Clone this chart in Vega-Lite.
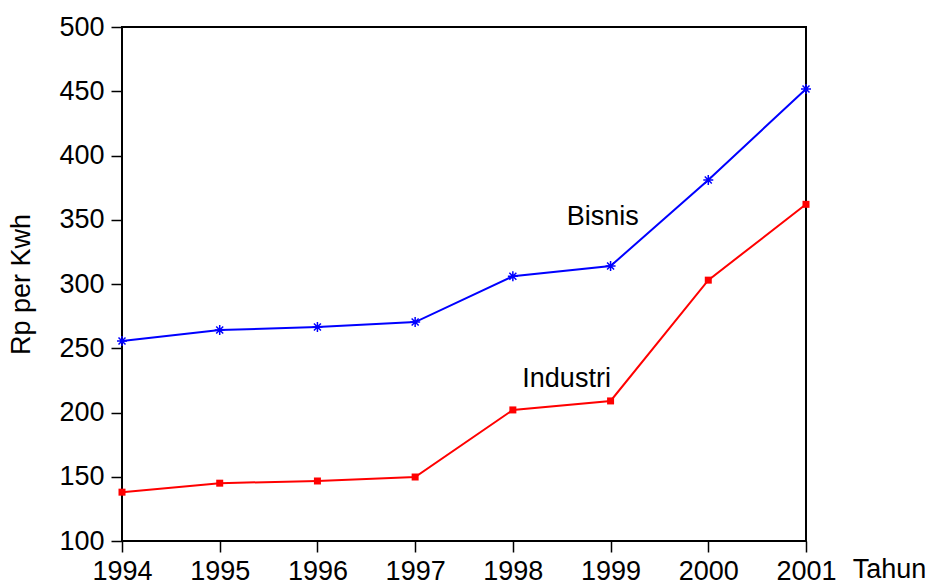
{
  "$schema": "https://vega.github.io/schema/vega-lite/v6.json",
  "autosize": "none",
  "width": 684,
  "height": 514,
  "padding": {"left": 122, "top": 27, "right": 125, "bottom": 45},
  "background": "white",
  "config": {
    "font": "Liberation Sans",
    "view": {"stroke": "black", "strokeWidth": 2},
    "axis": {"grid": false, "domain": false, "tickColor": "black", "tickWidth": 1.5, "tickSize": 11,
      "labelFont": "Liberation Sans", "labelFontSize": 27, "labelColor": "black",
      "titleFont": "Liberation Sans", "titleFontSize": 27, "titleColor": "black", "titleFontWeight": "normal"}
  },
  "datasets": {
    "series": [
      {"tahun": 1994, "nilai": 255.6, "seri": "Bisnis"},
      {"tahun": 1995, "nilai": 264.2, "seri": "Bisnis"},
      {"tahun": 1996, "nilai": 266.5, "seri": "Bisnis"},
      {"tahun": 1997, "nilai": 270.4, "seri": "Bisnis"},
      {"tahun": 1998, "nilai": 306.0, "seri": "Bisnis"},
      {"tahun": 1999, "nilai": 314.0, "seri": "Bisnis"},
      {"tahun": 2000, "nilai": 381.0, "seri": "Bisnis"},
      {"tahun": 2001, "nilai": 451.8, "seri": "Bisnis"},
      {"tahun": 1994, "nilai": 138.0, "seri": "Industri"},
      {"tahun": 1995, "nilai": 145.0, "seri": "Industri"},
      {"tahun": 1996, "nilai": 146.7, "seri": "Industri"},
      {"tahun": 1997, "nilai": 149.8, "seri": "Industri"},
      {"tahun": 1998, "nilai": 202.0, "seri": "Industri"},
      {"tahun": 1999, "nilai": 209.0, "seri": "Industri"},
      {"tahun": 2000, "nilai": 303.0, "seri": "Industri"},
      {"tahun": 2001, "nilai": 362.0, "seri": "Industri"}
    ],
    "labels": [
      {"tahun": 1998.92, "nilai": 352, "teks": "Bisnis"},
      {"tahun": 1998.55, "nilai": 226, "teks": "Industri"}
    ]
  },
  "layer": [
    {
      "data": {"name": "series"},
      "mark": {"type": "line", "strokeWidth": 2},
      "encoding": {
        "x": {"field": "tahun", "type": "quantitative", "scale": {"domain": [1994, 2001], "nice": false, "zero": false},
          "axis": {"values": [1994, 1995, 1996, 1997, 1998, 1999, 2000, 2001], "format": "d", "labelPadding": 6,
            "title": "Tahun", "titleX": 767, "titleY": 28, "titleBaseline": "middle", "titleAlign": "center", "labelFlush": false, "labelOverlap": false}},
        "y": {"field": "nilai", "type": "quantitative", "scale": {"domain": [100, 500], "nice": false, "zero": false},
          "axis": {"values": [100, 150, 200, 250, 300, 350, 400, 450, 500], "labelPadding": 7,
            "title": "Rp per Kwh", "titleX": -101, "titleY": 257, "titleBaseline": "middle", "titleAlign": "center", "titleAngle": -90}},
        "color": {"field": "seri", "type": "nominal", "scale": {"domain": ["Bisnis", "Industri"], "range": ["#0000ff", "#ff0000"]}, "legend": null}
      }
    },
    {
      "data": {"name": "series"},
      "transform": [{"filter": "datum.seri === 'Bisnis'"}],
      "mark": {"type": "point", "shape": "M-1,0L1,0M0,-1L0,1M-0.7,-0.7L0.7,0.7M-0.7,0.7L0.7,-0.7", "filled": false, "size": 100, "strokeWidth": 1.5, "color": "#0000ff", "opacity": 1},
      "encoding": {
        "x": {"field": "tahun", "type": "quantitative"},
        "y": {"field": "nilai", "type": "quantitative"}
      }
    },
    {
      "data": {"name": "series"},
      "transform": [{"filter": "datum.seri === 'Industri'"}],
      "mark": {"type": "square", "filled": true, "size": 49, "color": "#ff0000", "opacity": 1},
      "encoding": {
        "x": {"field": "tahun", "type": "quantitative"},
        "y": {"field": "nilai", "type": "quantitative"}
      }
    },
    {
      "data": {"name": "labels"},
      "mark": {"type": "text", "fontSize": 27, "font": "Liberation Sans", "color": "black", "align": "center", "baseline": "middle"},
      "encoding": {
        "x": {"field": "tahun", "type": "quantitative"},
        "y": {"field": "nilai", "type": "quantitative"},
        "text": {"field": "teks"}
      }
    }
  ]
}
